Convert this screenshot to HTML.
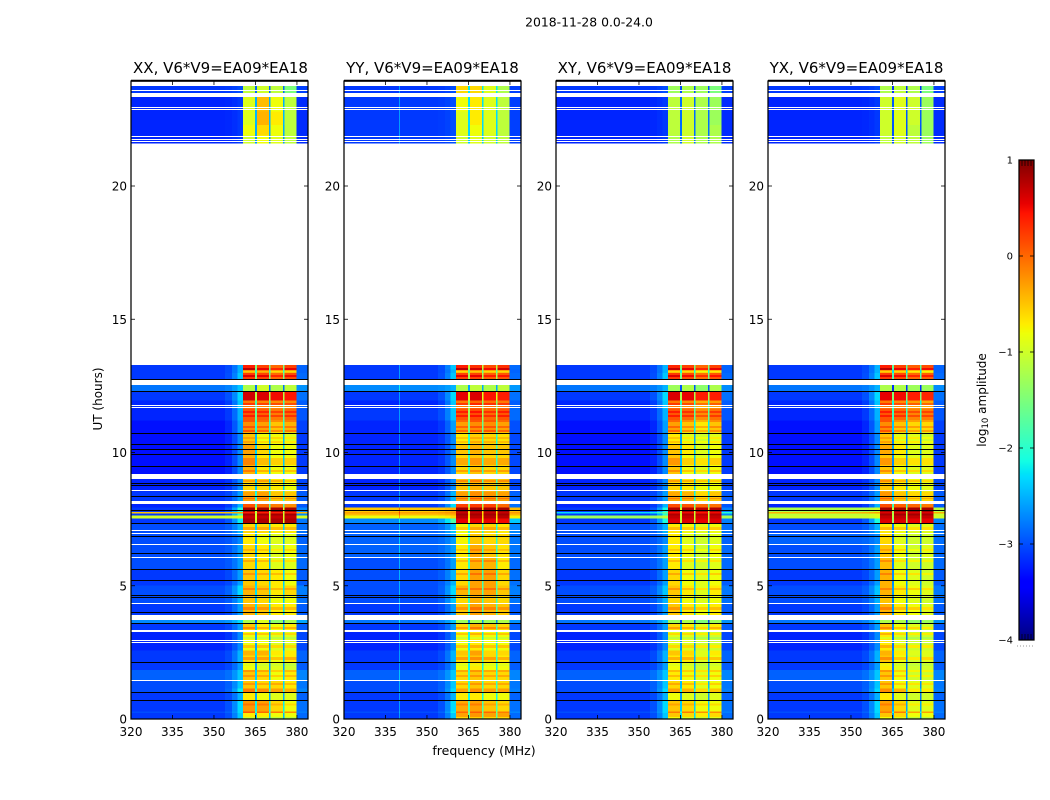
<!DOCTYPE html>
<html lang="en">
<head>
<meta charset="utf-8">
<title>2018-11-28 0.0-24.0</title>
<style>
html,body{margin:0;padding:0;background:#fff;width:1050px;height:800px;overflow:hidden}
svg{display:block}
text{font-family:"DejaVu Sans","Liberation Sans",sans-serif;fill:#000}
</style>
</head>
<body>
<svg id="figure" xmlns="http://www.w3.org/2000/svg" width="1050" height="800" viewBox="0 0 1050 800">
  <text x="589" y="26.5" font-size="12.4" text-anchor="middle">2018-11-28 0.0-24.0</text>
  <g id="panel-0">
    <text x="220.5" y="73" font-size="15" text-anchor="middle">XX, V6*V9=EA09*EA18</text>
  </g>
  <g id="panel-1">
    <text x="432.5" y="73" font-size="15" text-anchor="middle">YY, V6*V9=EA09*EA18</text>
  </g>
  <g id="panel-2">
    <text x="644.5" y="73" font-size="15" text-anchor="middle">XY, V6*V9=EA09*EA18</text>
  </g>
  <g id="panel-3">
    <text x="856.5" y="73" font-size="15" text-anchor="middle">YX, V6*V9=EA09*EA18</text>
  </g>
  <text x="484" y="755" font-size="12.5" text-anchor="middle">frequency (MHz)</text>
  <text x="0" y="0" font-size="12" text-anchor="middle" transform="translate(102,399) rotate(-90)">UT (hours)</text>
  <g id="colorbar"></g>
  <text x="0" y="0" font-size="12" text-anchor="middle" transform="translate(986,400) rotate(-90)">log<tspan font-size="8.5" dy="2">10</tspan><tspan dy="-2"> amplitude</tspan></text>
</svg>
<script>
// Frequency channels (MHz): sky band, RFI line, sky band, shoulder, four sub-bands split by notches, tail
const freqEdges = [320,339.8,340.3,350,354,356.5,358.5,360.5,364.9,365.5,369.9,370.5,374.9,375.5,379.9,384];
const freqTicks = [320,335,350,365,380];
const hourTicks = [0,5,10,15,20];
const colorTicks = [1,0,-1,-2,-3,-4];
const colorTickLabels = ['1','0','\u22121','\u22122','\u22123','\u22124'];

// UT bands (hours) that hold data
const bandHours = [
[0,.23],[.23,.30],[.30,.71],[.71,1.01],[1.01,1.16],[1.16,1.44],[1.44,1.85],[1.85,2.14],[2.14,2.40],[2.40,2.59],
[2.59,3.30],[3.30,3.58],[3.58,3.71],[3.90,4.32],[4.32,4.65],[4.65,5.03],[5.03,5.63],[5.63,6.08],[6.08,6.57],[6.57,6.98],
[6.98,7.35],[7.35,7.54],[7.54,7.64],[7.64,7.72],[7.72,7.78],[7.78,7.95],[7.95,8.18],[8.18,8.55],[8.55,9.0],[9.19,9.94],
[9.94,10.32],[10.32,10.77],[10.77,11.22],[11.22,11.67],[11.67,11.97],[11.97,12.29],[12.29,12.53],[12.72,13.0],[13.0,13.12],[13.12,13.28],
[21.6,21.9],[21.9,22.3],[22.3,22.8],[22.8,23.34],[23.5,23.75]];

// Flagged (white) UT ranges
const gapHours = [[1.42,1.46],[2.87,2.90],[2.95,2.98],[3.28,3.34],[3.71,3.90],[4.32,4.35],[4.53,4.56],[6.05,6.09],[6.54,6.58],[6.95,6.98],[7.05,7.08],[8.07,8.18],[8.54,8.58],[9.0,9.19],[11.66,11.70],[11.74,11.78],[12.53,12.72],[21.66,21.69],[21.74,21.77],[21.84,21.87],[22.84,22.88],[22.93,22.97],[23.34,23.5],[23.57,23.61]];

// Zero-amplitude (black) UT rows
const darkHours = [.70,1.0,2.15,3.59,4.0,4.59,4.65,5.2,5.62,6.22,6.86,7.34,7.84,8.37,8.78,8.84,9.49,9.93,10.13,10.31,10.74,12.31,12.75];

// Short-lived brightening inside the sub-bands: [start hour, end hour, log10 change]
const subbandStripes = [
[1.28,1.35,.25],[1.58,1.65,.25],[1.76,1.84,.25],[2.21,2.33,.3],[2.66,2.78,.3],[3.15,3.23,.3],[3.38,3.45,.3],[4.09,4.2,.25],
[4.84,4.92,.25],[5.4,5.48,.25],[5.89,5.96,.25],[6.3,6.38,.2],[7.1,7.2,.25],[8.25,8.3,.25],[8.9,8.97,.3],[9.27,9.34,.3],
[9.53,9.79,.25],[10.36,10.43,.2],[10.5,10.58,.2],[10.77,10.85,.3],[10.92,11.0,.3],[11.14,11.22,.3],[11.33,11.4,.3],[11.48,11.56,.3],
[11.78,11.86,.35],[12.83,12.9,.35],[13.0,13.05,-.3],[13.1,13.17,.35],[.0,.08,-.3],[.5,.58,.2],[2.0,2.05,-.2],[3.0,3.07,-.2]];

// log10 amplitude per UT band: [sky, shoulder, sub1, sub2, sub3, sub4]
const levelsXX = [
[-3,-2.3,-.7,-.7,-.8,-.8],[-2.9,-2.2,.1,0,-.1,-.2],[-3,-2.2,-.25,-.3,-.6,-.8],[-3,-2.4,-.7,-.8,-.9,-.9],[-2.9,-2.1,-.1,-.2,-.3,-.4],
[-2.9,-2.3,-.5,-.6,-.6,-.7],[-2.8,-2.3,-.5,-.6,-.8,-.7],[-3,-2.5,-.8,-.9,-.9,-1],[-3,-2.4,-.6,-.6,-.8,-.7],[-3,-2.4,-.4,-.4,-.7,-.7],
[-3.1,-2.6,-.8,-.8,-.9,-.9],[-3,-2.5,-.5,-.7,-.8,-.7],[-2.6,-2.2,-1.2,-.9,-1.4,-1.2],[-3,-2.5,-.4,-.5,-.7,-.7],[-2.9,-2.4,-.5,-.6,-.8,-.8],
[-2.9,-2.2,-.4,-.5,-.7,-.6],[-3,-2.5,-.5,-.6,-.7,-.8],[-2.9,-2.5,-.6,-.7,-.9,-.9],[-2.9,-2.5,-.6,-.7,-.9,-.8],[-2.9,-2.6,-.7,-.8,-.9,-.9],
[-2.9,-2.4,-.6,-.6,-.7,-.7],[-3,-2.1,.8,.8,.8,.8],[-1,-.9,.7,.7,.7,.7],[-3,-1.8,.85,.85,.85,.85],[-.5,-.3,.4,.4,.4,.4],
[-3,-1.9,.85,.85,.85,.85],[-3.1,-2.4,.1,0,-.1,-.2],[-3,-2.5,-.3,-.3,-.5,-.5],[-3.1,-2.6,-.6,-.6,-.7,-.8],[-3.2,-2.6,-.4,-.7,-.8,-.8],
[-3.2,-2.6,-.3,-.6,-.8,-.8],[-3.2,-2.6,-.5,-.8,-.8,-.9],[-3.2,-2.5,-.2,-.3,-.5,-.4],[-3.1,-2.4,.1,.05,-.1,0],[-3.1,-2.3,-.1,-.15,-.2,-.2],
[-3,-2.2,.65,.6,.5,.45],[-2.7,-2.3,-1.2,-1,-1.2,-1.1],[-3,-2.3,.25,.2,0,.15],[-3,-2.4,-.2,-.1,-.3,-.3],[-3,-2.4,.4,.2,0,.2],
[-3.1,-3,-1,-.8,-.9,-1.1],[-3.1,-3,-.8,-.6,-.8,-1.1],[-3.1,-3,-.9,-.4,-.7,-1.1],[-3.1,-3,-.9,-.45,-.8,-1.1],[-3,-2.9,-1.1,-1,-1.1,-1.5]];

const levelsYY = [
[-3,-2.3,-.3,-.25,-.3,-.3],[-2.9,-2.1,0,.05,0,-.1],[-3,-2.2,-.35,-.3,-.5,-.6],[-3,-2.4,-.7,-.7,-.8,-.8],[-2.9,-2.2,-.3,-.2,-.3,-.3],
[-2.9,-2.3,-.6,-.5,-.6,-.6],[-2.8,-2.3,-.6,-.5,-.6,-.6],[-3,-2.5,-.8,-.7,-.8,-.8],[-3,-2.4,-.6,-.5,-.6,-.7],[-3,-2.4,-.5,-.3,-.6,-.6],
[-3.1,-2.6,-.8,-.7,-.8,-.8],[-3,-2.5,-.6,-.4,-.5,-.6],[-2.7,-2.3,-1.3,-1.2,-1.3,-1.2],[-3,-2.5,-.5,-.3,-.4,-.5],[-2.9,-2.3,-.6,-.4,-.5,-.6],
[-2.9,-2.2,-.4,-.3,-.3,-.5],[-2.9,-2.4,-.6,-.3,-.3,-.6],[-2.9,-2.5,-.7,-.4,-.4,-.7],[-2.8,-2.5,-.7,-.35,-.5,-.65],[-2.8,-2.5,-.75,-.5,-.6,-.6],
[-2.8,-2.3,-.8,-.6,-.6,-.7],[-2.6,-1.7,.55,.55,.55,.5],[-.8,-.6,.75,.75,.75,.75],[-.45,-.35,.85,.85,.85,.85],[-.3,-.2,.7,.7,.7,.7],
[-.5,-.35,.85,.85,.85,.85],[-3,-2.2,.2,.25,.2,0],[-3,-2.4,-.3,-.2,-.25,-.3],[-3.1,-2.6,-.5,-.4,-.5,-.5],[-3.1,-2.6,-.6,-.5,-.6,-.6],
[-3.1,-2.6,-.5,-.4,-.5,-.5],[-3.1,-2.6,-.7,-.55,-.6,-.65],[-3.1,-2.5,-.3,-.2,-.2,-.3],[-3,-2.3,.1,.15,0,.1],[-3.1,-2.3,-.1,0,-.05,-.1],
[-3,-2.2,.55,.6,.45,.4],[-2.6,-2.4,-1.2,-1.1,-1.2,-1.1],[-3,-2.3,.2,.2,.05,.1],[-3,-2.4,-.3,-.2,-.3,-.3],[-3,-2.3,.4,.3,.15,.3],
[-3,-2.9,-1,-.9,-1,-1.1],[-3,-2.9,-.9,-.8,-.9,-1.1],[-3,-2.9,-.9,-.7,-.9,-1.1],[-3,-2.9,-.8,-.7,-.9,-1.1],[-3,-2.9,-.6,-.6,-.9,-1.2]];

const levelsXY = [
[-3,-2.3,-.5,-.6,-.7,-.6],[-2.9,-2.2,-.1,-.1,-.2,-.2],[-3,-2.2,-.5,-.6,-.8,-.8],[-3,-2.4,-.8,-.9,-1,-.9],[-2.9,-2.2,-.3,-.4,-.6,-.5],
[-2.9,-2.3,-.6,-.7,-.9,-.8],[-2.8,-2.3,-.7,-.8,-.9,-.8],[-3,-2.5,-.8,-.9,-1,-.9],[-3,-2.4,-.7,-.7,-.9,-.8],[-3,-2.4,-.5,-.6,-.9,-.7],
[-3.1,-2.6,-.9,-.9,-1,-1],[-3,-2.5,-.6,-.7,-.9,-.7],[-2.7,-2.3,-1.3,-1.2,-1.5,-1.3],[-3,-2.5,-.5,-.7,-.8,-.7],[-2.9,-2.4,-.6,-.8,-.9,-.8],
[-2.9,-2.3,-.5,-.7,-.9,-.7],[-3,-2.5,-.6,-.8,-.9,-.8],[-2.9,-2.5,-.7,-.9,-1,-.9],[-2.9,-2.5,-.7,-.8,-1,-.8],[-2.9,-2.6,-.7,-.9,-1,-.9],
[-2.9,-2.4,-.7,-.8,-.9,-.8],[-3,-2,.6,.6,.55,.6],[-1.3,-1.1,.7,.7,.65,.7],[-3,-1.9,.8,.8,.75,.8],[-2.2,-1.5,.5,.5,.45,.5],
[-3,-2,.8,.8,.75,.8],[-3.1,-2.4,.15,.1,0,-.05],[-3,-2.5,-.35,-.4,-.6,-.5],[-3.1,-2.6,-.6,-.7,-.8,-.8],[-3.2,-2.6,-.5,-.8,-.9,-.8],
[-3.2,-2.6,-.5,-.7,-.9,-.8],[-3.2,-2.6,-.7,-.9,-1,-.9],[-3.2,-2.5,-.3,-.5,-.7,-.5],[-3.1,-2.4,.1,0,-.2,-.05],[-3.1,-2.3,-.1,-.2,-.4,-.3],
[-3,-2.2,.6,.55,.4,.4],[-2.7,-2.4,-1.3,-1.2,-1.4,-1.2],[-3,-2.3,.25,.15,-.05,.1],[-3,-2.4,-.3,-.3,-.5,-.4],[-3,-2.4,.35,.2,0,.2],
[-3.1,-3,-1.2,-1,-1.2,-1.2],[-3.1,-3,-1.1,-1,-1.2,-1.2],[-3.1,-3,-1.1,-1,-1.2,-1.3],[-3.1,-3,-1.1,-1,-1.2,-1.3],[-3,-2.9,-1.3,-1.2,-1.3,-1.5]];

const levelsYX = [
[-3,-2.3,-.5,-.6,-.8,-.8],[-2.9,-2.2,-.1,-.1,-.3,-.3],[-3,-2.2,-.3,-.6,-.9,-.9],[-3,-2.4,-.7,-.9,-1,-1],[-2.9,-2.2,-.2,-.4,-.7,-.7],
[-2.9,-2.3,-.5,-.8,-.9,-.9],[-2.8,-2.3,-.5,-.8,-1,-1],[-3,-2.5,-.7,-.9,-1,-1],[-3,-2.4,-.5,-.8,-1,-.9],[-3,-2.4,-.4,-.7,-.9,-.9],
[-3.1,-2.6,-.7,-.9,-1,-1],[-3,-2.5,-.5,-.8,-.9,-1],[-2.7,-2.3,-1.2,-1.2,-1.4,-1.3],[-3,-2.5,-.4,-.7,-.8,-.9],[-2.9,-2.4,-.5,-.8,-.9,-1],
[-2.9,-2.3,-.4,-.7,-.8,-.9],[-3,-2.5,-.4,-.8,-.9,-1],[-2.9,-2.5,-.45,-.9,-1,-1],[-2.9,-2.5,-.5,-.8,-1,-.9],[-2.8,-2.6,-.6,-.9,-1,-1],
[-2.9,-2.4,-.7,-.8,-.9,-.9],[-3,-2,.6,.6,.55,.55],[-1,-.9,.7,.7,.7,.7],[-1.1,-.9,.85,.85,.85,.85],[-.4,-.3,.6,.6,.6,.6],
[-1.2,-1,.85,.85,.85,.85],[-3.1,-2.4,.15,.05,0,-.1],[-3,-2.5,-.25,-.5,-.6,-.6],[-3.1,-2.6,-.5,-.7,-.8,-.9],[-3.2,-2.6,-.5,-.8,-.9,-.9],
[-3.2,-2.6,-.35,-.7,-.9,-.9],[-3.2,-2.6,-.5,-.9,-.9,-1],[-3.2,-2.5,-.2,-.5,-.6,-.6],[-3.1,-2.4,.1,0,-.15,-.1],[-3.1,-2.3,-.1,-.2,-.3,-.35],
[-3,-2.2,.55,.5,.4,.35],[-2.7,-2.4,-1.2,-1.2,-1.3,-1.3],[-3,-2.3,.25,.15,0,.05],[-3,-2.4,-.25,-.3,-.4,-.45],[-3,-2.4,.4,.2,.05,.15],
[-3.1,-3,-1.1,-1,-1.1,-1.3],[-3.1,-3,-1,-.9,-1.1,-1.3],[-3.1,-3,-1,-.9,-1,-1.3],[-3.1,-3,-1,-.9,-1,-1.3],[-3,-2.9,-1.2,-1.1,-1.2,-1.5]];

const panelLevels = [levelsXX,levelsYY,levelsXY,levelsYX];
const panelNames = ['xx','yy','xy','yx'];
const notchDepth = [1.7,1.4,1.7,1.9];
const rfiBoost = [0,.5,0,0];
const shoulderMix = [0,0,0,0,.15,.5,1];
const tailMix = .35;
const skyCalibration = -.1;

// Jet colormap knots: [position, value]
const jetRed = [[0,0],[.35,0],[.66,1],[.89,1],[1,.5]];
const jetGreen = [[0,0],[.125,0],[.375,1],[.64,1],[.91,0],[1,0]];
const jetBlue = [[0,.5],[.11,1],[.34,1],[.65,0],[1,0]];

const NS = 'http://www.w3.org/2000/svg';
const axisLefts = [131,344,556,768];
const axisWidth = 177, axisTop = 81, axisBottom = 719;
const colorMin = -4, colorMax = 1;
const cbar = {x:1019,w:15,top:160,bottom:640};
const subbandColumns = [7,9,11,13];

function xScale(panel,freq){return axisLefts[panel]+(freq-320)/64*axisWidth;}
function yScale(hour){return axisBottom-hour*26.65;}
function cbarScale(v){return cbar.bottom-(v-colorMin)/(colorMax-colorMin)*(cbar.bottom-cbar.top);}
function knot(table,t){
  for(let i=1;i<table.length;i++){
    if(t<=table[i][0]){
      const a=table[i-1],b=table[i];
      return a[1]+(b[1]-a[1])*(t-a[0])/(b[0]-a[0]);
    }
  }
  return table[table.length-1][1];
}
function jet(v){
  const t=Math.max(0,Math.min(1,(v-colorMin)/(colorMax-colorMin)));
  const c=[jetRed,jetGreen,jetBlue].map(k=>Math.round(knot(k,t)*255));
  return 'rgb('+c.join(',')+')';
}
function cellValue(panel,row,col){
  const r=panelLevels[panel][row];
  const bias=r[0]<-2?skyCalibration:0;
  const sky=r[0]+bias,sh=r[1]+bias;
  if(col<shoulderMix.length){
    let v=sky+(sh-sky)*shoulderMix[col];
    if(col===1)v+=rfiBoost[panel];
    return v;
  }
  if(col===7)return r[2];
  if(col===9)return r[3];
  if(col===11)return r[4];
  if(col===13)return r[5];
  if(col===14)return sky+(sh-sky)*tailMix;
  return (r[2]+r[3]+r[4]+r[5])/4-notchDepth[panel];
}
function bandAt(hour){
  for(let i=0;i<bandHours.length;i++){
    if(hour>=bandHours[i][0]&&hour<bandHours[i][1])return i;
  }
  return -1;
}
function rect(parent,x,y,w,h,fill){
  const el=document.createElementNS(NS,'rect');
  el.setAttribute('x',x);
  el.setAttribute('y',y);
  el.setAttribute('width',w);
  el.setAttribute('height',h);
  el.setAttribute('fill',fill);
  el.setAttribute('shape-rendering','crispEdges');
  parent.appendChild(el);
  return el;
}
function line(parent,x1,y1,x2,y2,w){
  const el=document.createElementNS(NS,'line');
  el.setAttribute('x1',x1);
  el.setAttribute('y1',y1);
  el.setAttribute('x2',x2);
  el.setAttribute('y2',y2);
  el.setAttribute('stroke','#000');
  el.setAttribute('stroke-width',w);
  parent.appendChild(el);
  return el;
}
function label(parent,x,y,str,anchor,size){
  const el=document.createElementNS(NS,'text');
  el.setAttribute('x',x);
  el.setAttribute('y',y);
  el.setAttribute('font-size',size);
  el.setAttribute('text-anchor',anchor);
  el.textContent=str;
  parent.appendChild(el);
  return el;
}

panelLevels.forEach(function(levels,p){
  const g=document.getElementById('panel-'+p);
  const name=panelNames[p];
  const heat=document.createElementNS(NS,'g');
  
  
  g.appendChild(heat);
  bandHours.forEach(function(band,row){
    for(let c=0;c<freqEdges.length-1;c++){
      const x0=xScale(p,freqEdges[c]),x1=xScale(p,freqEdges[c+1]);
      const y1=yScale(band[0]),y0=yScale(band[1]);
      const cell=rect(heat,x0,y0,x1-x0+.3,y1-y0+.3,jet(cellValue(p,row,c)));
      
      
    }
  });
  subbandStripes.forEach(function(s){
    const row=bandAt((s[0]+s[1])/2);
    if(row<0)return;
    subbandColumns.forEach(function(c){
      const x0=xScale(p,freqEdges[c]),x1=xScale(p,freqEdges[c+1]);
      const el=rect(heat,x0,yScale(s[1]),x1-x0,(s[1]-s[0])*26.65,jet(cellValue(p,row,c)+s[2]));
      
      
    });
  });
  gapHours.forEach(function(gap){
    const y0=Math.round(yScale(gap[1]));
    const hgt=Math.max(1,Math.round((gap[1]-gap[0])*26.65));
    const el=rect(heat,xScale(p,320),y0,axisWidth,hgt,'#fff');
    
    
  });
  darkHours.forEach(function(h){
    const el=rect(heat,xScale(p,320),Math.round(yScale(h)),axisWidth,1,'#000');
    
    
  });
  const left=axisLefts[p];
  const frame=document.createElementNS(NS,'rect');
  frame.setAttribute('x',left);
  frame.setAttribute('y',axisTop);
  frame.setAttribute('width',axisWidth);
  frame.setAttribute('height',axisBottom-axisTop);
  frame.setAttribute('fill','none');
  frame.setAttribute('stroke','#000');
  frame.setAttribute('stroke-width','1.25');
  
  
  g.appendChild(frame);
  const topSpine=line(g,left,axisTop-.3,left+axisWidth,axisTop-.3,2);
  
  
  freqTicks.forEach(function(f){
    const x=xScale(p,f);
    const bottomTick=line(g,x,axisBottom,x,axisBottom-4,.8);
    
    
    const topTick=line(g,x,axisTop,x,axisTop+4,.8);
    
    
    const t=label(g,x,736,String(f),'middle',12);
    
    
  });
  hourTicks.forEach(function(h){
    const y=yScale(h);
    const leftTick=line(g,left,y,left+4,y,.8);
    
    
    const rightTick=line(g,left+axisWidth,y,left+axisWidth-4,y,.8);
    
    
    const t=label(g,left-4,y+4.5,String(h),'end',12);
    
    
  });
});

(function(){
  const g=document.getElementById('colorbar');
  const steps=240;
  for(let i=0;i<steps;i++){
    const v0=colorMin+(colorMax-colorMin)*i/steps;
    const v1=colorMin+(colorMax-colorMin)*(i+1)/steps;
    const el=rect(g,cbar.x,cbarScale(v1),cbar.w,cbarScale(v0)-cbarScale(v1)+.3,jet((v0+v1)/2));
    
    
  }
  const frame=document.createElementNS(NS,'rect');
  frame.setAttribute('x',cbar.x);
  frame.setAttribute('y',cbar.top);
  frame.setAttribute('width',cbar.w);
  frame.setAttribute('height',cbar.bottom-cbar.top);
  frame.setAttribute('fill','none');
  frame.setAttribute('stroke','#000');
  frame.setAttribute('stroke-width','1.25');
  
  
  g.appendChild(frame);
  colorTicks.forEach(function(v,i){
    const y=cbarScale(v);
    const a=line(g,cbar.x,y,cbar.x+4,y,.8);
    
    
    const b=line(g,cbar.x+cbar.w,y,cbar.x+cbar.w-4,y,.8);
    
    
    const t=label(g,1013,y+3.5,colorTickLabels[i],'end',10);
    
    
  });
  [1,2,3,4].forEach(function(k){
    const x=cbar.x+k*3;
    const a=line(g,x,cbar.top,x,cbar.top+6,.7);
    
    
    const b=line(g,x,cbar.bottom,x,cbar.bottom-6,.7);
    
    
  });
  const dots=line(g,1017,646,1035,646,.8);
  dots.setAttribute('stroke-dasharray','1 2');
  dots.setAttribute('stroke','#777');
  
  
})();
</script>
</body>
</html>
